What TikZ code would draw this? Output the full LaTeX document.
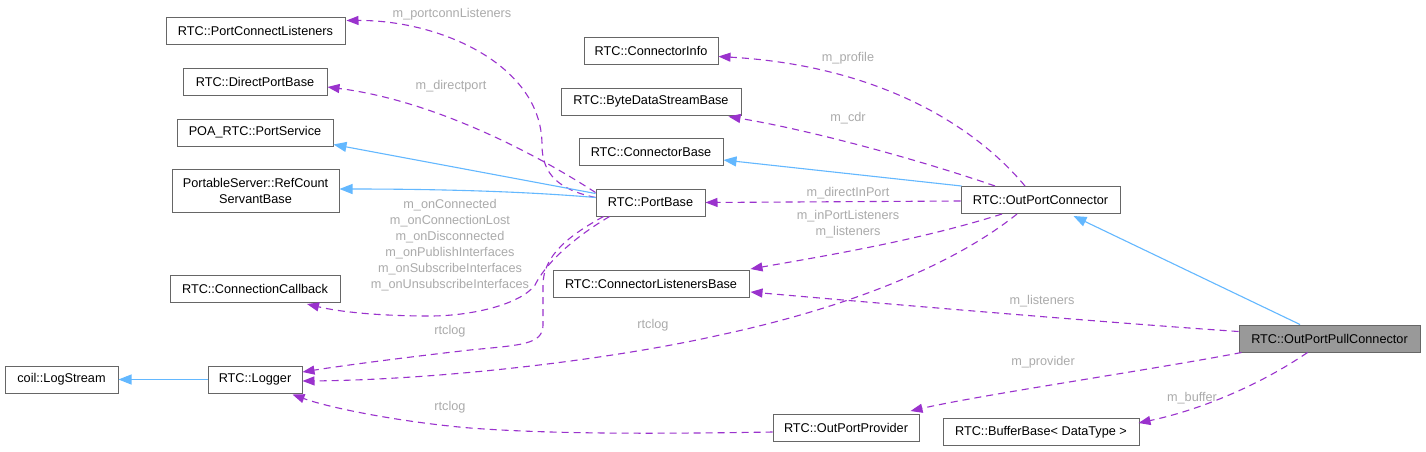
\documentclass[tikz,border=0pt]{standalone}
\usepackage{fontspec}
\setmainfont{Liberation Sans}
\usetikzlibrary{arrows.meta,calc}
\definecolor{depcol}{HTML}{9A32CD}
\definecolor{inhcol}{HTML}{63B8FF}
\definecolor{bordercol}{HTML}{666666}
\definecolor{lblcol}{HTML}{ABABAB}
\definecolor{focuscol}{HTML}{999999}
\begin{document}
\begin{tikzpicture}[x=1pt,y=-1pt,
  cls/.style={draw=bordercol, line width=1pt, fill=white, minimum height=27pt, inner sep=0pt, font=\fontsize{12.7}{16}\selectfont, align=center},
  depedge/.style={draw=depcol, line width=1.1pt, dash pattern=on 7pt off 5pt, -{Triangle[length=12pt,width=9pt,fill=depcol]}},
  inhedge/.style={draw=inhcol, line width=1.1pt, -{Triangle[length=13pt,width=10pt,fill=inhcol]}},
  elabel/.style={text=lblcol, font=\fontsize{12.7}{16}\selectfont, align=center, inner sep=0pt}
]
\path[use as bounding box, fill=white] (0,0) rectangle (1426,451);

% nodes
\node[cls, minimum width=179pt] (PCL) at (255.5,30.5) {RTC::PortConnectListeners};
\node[cls, minimum width=144pt] (DPB) at (255,81.5) {RTC::DirectPortBase};
\node[cls, minimum width=156pt] (PS) at (255,132.5) {POA\_RTC::PortService};
\node[cls, minimum width=167pt, minimum height=43pt] (RCSB) at (255.5,190.5) {PortableServer::RefCount\\ServantBase};
\node[cls, minimum width=170pt] (CC) at (255,289) {RTC::ConnectionCallback};
\node[cls, minimum width=113pt] (LS) at (61.5,379.5) {coil::LogStream};
\node[cls, minimum width=94pt] (LOG) at (255,379.5) {RTC::Logger};
\node[cls, minimum width=134pt] (CI) at (651,50.5) {RTC::ConnectorInfo};
\node[cls, minimum width=180pt] (BDSB) at (651,101.5) {RTC::ByteDataStreamBase};
\node[cls, minimum width=144pt] (CB) at (651,152) {RTC::ConnectorBase};
\node[cls, minimum width=109pt] (PB) at (650.5,202.5) {RTC::PortBase};
\node[cls, minimum width=196pt] (CLB) at (651,284) {RTC::ConnectorListenersBase};
\node[cls, minimum width=146pt] (OPP) at (846,428) {RTC::OutPortProvider};
\node[cls, minimum width=159pt] (OPC) at (1040.5,200) {RTC::OutPortConnector};
\node[cls, minimum width=181pt, fill=focuscol] (OPPC) at (1329.5,338.5) {RTC::OutPortPullConnector};
\node[cls, minimum width=196pt] (BB) at (1041,432) {RTC::BufferBase< DataType >};

% PortBase dependencies
\draw[depedge] ($(PB.west)+(0,-5)$) .. controls (560,190) and (542,175) .. (542,145)
  .. controls (542,65) and (440,20) .. ($(PCL.east)+(1,-10)$);
\node[elabel] (l1) at (452,14) {m\_portconnListeners};

\draw[depedge] ($(PB.west)+(0,-10)$) .. controls (530,150) and (430,100) .. ($(DPB.east)+(0,5.5)$);
\node[elabel] (l2) at (451,86) {m\_directport};

\draw[inhedge] ($(PB.west)+(0,-9)$) -- ($(PS.east)+(0,12)$);
\draw[inhedge] ($(PB.west)+(0,-5)$) .. controls (520,191) and (430,189) .. ($(RCSB.east)+(0,-1.5)$);

\draw[depedge] ($(PB.south west)+(14,0)$) .. controls (570,240) and (545,265) .. (535,285)
  .. controls (520,305) and (470,316) .. (430,316)
  .. controls (380,316) and (340,312) .. ($(CC.south)+(52,1)$);
\node[elabel] (l3) at (450,245) {m\_onConnected\\m\_onConnectionLost\\m\_onDisconnected\\m\_onPublishInterfaces\\m\_onSubscribeInterfaces\\m\_onUnsubscribeInterfaces};

\draw[depedge] ($(PB.south west)+(8,0)$) .. controls (570,235) and (543,255) .. (543,285)
  -- (543,325) .. controls (543,345) and (520,345) .. (470,350)
  .. controls (400,358) and (340,366) .. ($(LOG.east)+(0,-7.5)$);
\node[elabel] (l4) at (450,331) {rtclog};

% OutPortConnector dependencies
\draw[depedge] ($(OPC.south)+(-23.5,0)$) .. controls (960,260) and (860,305) .. (720,335)
  .. controls (600,362) and (430,380) .. ($(LOG.east)+(0,1.5)$);
\node[elabel] (l5) at (653,325) {rtclog};

\draw[depedge] ($(OPP.west)+(0,4)$) .. controls (650,434) and (550,434) .. (470,428)
  .. controls (400,422) and (330,408) .. ($(LOG.south east)+(-10,1)$);
\node[elabel] (l6) at (450,407) {rtclog};

\draw[inhedge] (LOG.west) -- (LS.east);

\draw[depedge] ($(OPC.north)+(-15.5,0)$) .. controls (970,120) and (870,65) .. ($(CI.east)+(0,6)$);
\node[elabel] (l7) at (848,58) {m\_profile};

\draw[depedge] ($(OPC.north)+(-45.5,0)$) .. controls (920,160) and (810,130) .. ($(BDSB.south east)+(-13,1)$);
\node[elabel] (l8) at (848,118) {m\_cdr};

\draw[inhedge] ($(OPC.north west)+(1,0)$) -- ($(CB.east)+(0,8)$);

\draw[depedge] ($(OPC.west)+(0,1)$) -- (PB.east);
\node[elabel] (l9) at (848,193) {m\_directInPort};

\draw[depedge] ($(OPC.south)+(-38.5,0)$) .. controls (920,240) and (830,255) .. ($(CLB.north east)+(1,-1)$);
\node[elabel] (l10) at (848,224.5) {m\_inPortListeners\\m\_listeners};

% OutPortPullConnector
\draw[depedge] ($(OPPC.west)+(0,-7)$) .. controls (1100,322) and (900,305) .. ($(CLB.east)+(1,8)$);
\node[elabel] (l11) at (1042,301) {m\_listeners};

\draw[inhedge] ($(OPPC.north)+(-29.5,0)$) -- ($(OPC.south)+(33,2)$);

\draw[depedge] ($(OPPC.south west)+(3,0)$) .. controls (1150,370) and (980,395) .. ($(OPP.north east)+(-9,-3)$);
\node[elabel] (l12) at (1043,362) {m\_provider};

\draw[depedge] ($(OPPC.south)+(-22,0)$) .. controls (1260,385) and (1200,410) .. ($(BB.east)+(-1,-9)$);
\node[elabel] (l13) at (1192,398) {m\_buffer};
\end{tikzpicture}
\end{document}
